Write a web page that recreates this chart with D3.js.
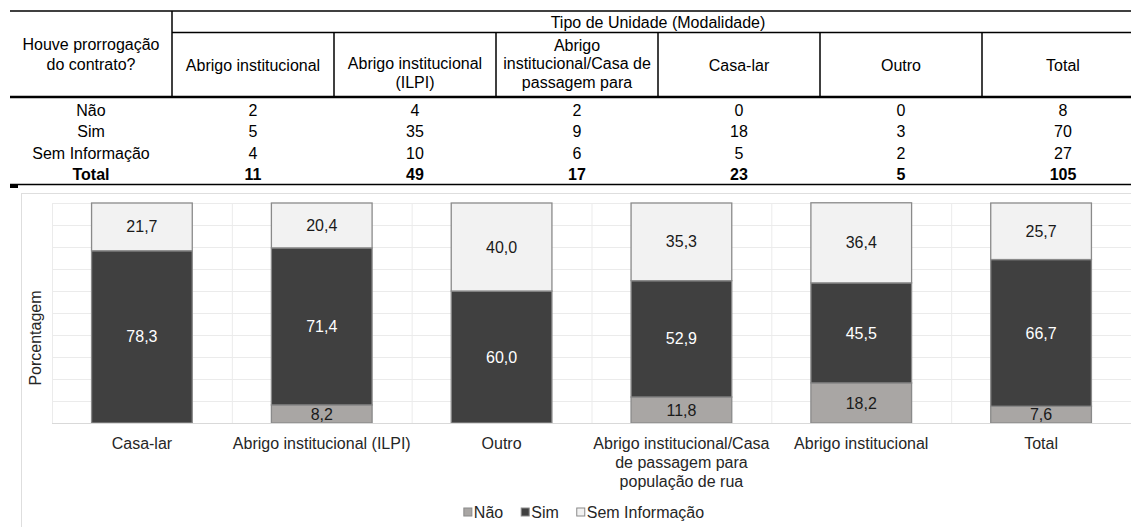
<!DOCTYPE html>
<html>
<head>
<meta charset="utf-8">
<script src="https://cdn.jsdelivr.net/npm/d3@7"></script>
<style>
  html, body { margin: 0; padding: 0; background: #ffffff; }
  svg { display: block; font-family: "Liberation Sans", Arial, sans-serif; }
</style>
</head>
<body>
<svg id="fig" width="1131" height="527"></svg>
<script>
// ---- Table data ----
const tableTitle = "Tipo de Unidade (Modalidade)";
const tableCorner = ["Houve prorrogação", "do contrato?"];
const tableHeaders = [
  ["Abrigo institucional"],
  ["Abrigo institucional", "(ILPI)"],
  ["Abrigo", "institucional/Casa de", "passagem para"],
  ["Casa-lar"],
  ["Outro"],
  ["Total"]
];
const tableRowLabels = ["Não", "Sim", "Sem Informação", "Total"];
const tableNao   = [2, 4, 2, 0, 0, 8];
const tableSim   = [5, 35, 9, 18, 3, 70];
const tableSem   = [4, 10, 6, 5, 2, 27];
const tableTotal = [11, 49, 17, 23, 5, 105];

// ---- Chart data (percentages) ----
const categories = [
  "Casa-lar",
  "Abrigo institucional (ILPI)",
  "Outro",
  "Abrigo institucional/Casa de passagem para população de rua",
  "Abrigo institucional",
  "Total"
];
const pctNao = [0, 8.2, 0, 11.8, 18.2, 7.6];
const pctSim = [78.3, 71.4, 60.0, 52.9, 45.5, 66.7];
const pctSem = [21.7, 20.4, 40.0, 35.3, 36.4, 25.7];
const seriesNames = ["Não", "Sim", "Sem Informação"];
const yTicks = [0, 10, 20, 30, 40, 50, 60, 70, 80, 90, 100];

const svg = d3.select("#fig");
svg.append("rect").attr("width", 1131).attr("height", 527).attr("fill", "#fff");

const FS = 16;
const fmt = v => d3.format(".1f")(v).replace(".", ",");

// =================== TABLE ===================
const tbl = svg.append("g");
const colX = d3.scaleLinear().domain([0, 7]).range([10, 1144]); // 7 columns incl. row labels
const colCenter = i => (colX(i) + colX(i + 1)) / 2;
const rowY = [110, 131, 153, 174];

function hline(x1, x2, y, w) {
  tbl.append("line").attr("x1", x1).attr("x2", x2).attr("y1", y).attr("y2", y)
    .attr("stroke", "#000").attr("stroke-width", w);
}
function vline(x, y1, y2, w) {
  tbl.append("line").attr("x1", x).attr("x2", x).attr("y1", y1).attr("y2", y2)
    .attr("stroke", "#000").attr("stroke-width", w);
}
hline(10, 1131, 11, 1.5);
hline(colX(1), 1131, 32.5, 1.5);
hline(10, 1131, 97, 2.5);
hline(10, 1131, 184.5, 1.5);
tbl.append("rect").attr("x", 10).attr("y", 184).attr("width", 8).attr("height", 4).attr("fill", "#000");
vline(colX(1), 11, 97, 1.5);
for (let i = 2; i <= 6; i++) vline(colX(i), 32.5, 97, 1.5);

function ctext(g, x, yc, s, opts = {}) {
  return g.append("text").attr("x", x).attr("y", yc + FS * 0.35)
    .attr("text-anchor", "middle").attr("font-size", FS)
    .attr("font-weight", opts.bold ? "bold" : null)
    .attr("fill", opts.fill || "#000").text(s);
}

ctext(tbl, (colX(1) + colX(7)) / 2, 22, tableTitle);
tableCorner.forEach((s, i) => ctext(tbl, colCenter(0), 44.5 + i * 20, s));
tableHeaders.forEach((lines, c) => {
  const n = lines.length;
  lines.forEach((s, k) => {
    const yc = n === 1 ? 65 : 82 - (n - 1 - k) * 18.5;
    ctext(tbl, colCenter(c + 1), yc, s);
  });
});
const tableRows = [tableNao, tableSim, tableSem, tableTotal];
tableRowLabels.forEach((lab, r) => {
  const bold = r === 3;
  ctext(tbl, colCenter(0), rowY[r], lab, { bold });
  tableRows[r].forEach((v, c) => ctext(tbl, colCenter(c + 1), rowY[r], v, { bold }));
});

// =================== CHART ===================
const ch = svg.append("g");
ch.append("rect").attr("x", 21.5).attr("y", 193.5).attr("width", 1140).attr("height", 400)
  .attr("fill", "none").attr("stroke", "#dedede").attr("stroke-width", 1);

const x = d3.scaleBand().domain(categories).range([52, 1131]).paddingInner(0.44).paddingOuter(0.22);
const y = d3.scaleLinear().domain([0, 100]).range([423, 203]);
const step = x.step();

// gridlines
ch.append("g").selectAll("line").data(yTicks.slice(1)).join("line")
  .attr("x1", 52).attr("x2", 1131).attr("y1", d => y(d) + 0.5).attr("y2", d => y(d) + 0.5)
  .attr("stroke", "#ebebeb").attr("stroke-width", 1);
ch.append("g").selectAll("line").data(categories).join("line")
  .attr("x1", d => x(d) - step * x.paddingInner() / 2 + 0.5)
  .attr("x2", d => x(d) - step * x.paddingInner() / 2 + 0.5)
  .attr("y1", y(100)).attr("y2", y(0))
  .attr("stroke", "#ebebeb").attr("stroke-width", 1);

// stacked series
const rows = categories.map((c, i) => ({ cat: c, "Não": pctNao[i], "Sim": pctSim[i], "Sem Informação": pctSem[i] }));
const stack = d3.stack().keys(seriesNames)(rows);
const fills = { "Não": "#a9a6a4", "Sim": "#404040", "Sem Informação": "#f2f2f2" };
const labelFill = { "Não": "#1a1a1a", "Sim": "#ffffff", "Sem Informação": "#1a1a1a" };

const layers = ch.append("g").selectAll("g").data(stack).join("g");
layers.selectAll("rect").data(d => d.map(p => ({ key: d.key, p })).filter(o => o.p[1] - o.p[0] > 0))
  .join("rect")
  .attr("x", o => x(o.p.data.cat))
  .attr("width", x.bandwidth())
  .attr("y", o => y(o.p[1]))
  .attr("height", o => y(o.p[0]) - y(o.p[1]))
  .attr("fill", o => fills[o.key])
  .attr("stroke", "#8a8a8a").attr("stroke-width", 1.3);

// axis baseline
ch.append("line").attr("x1", 52).attr("x2", 1131).attr("y1", y(0) + 0.5).attr("y2", y(0) + 0.5)
  .attr("stroke", "#d9d9d9").attr("stroke-width", 1);

// value labels
layers.selectAll("text").data(d => d.map(p => ({ key: d.key, p })).filter(o => o.p[1] - o.p[0] > 0))
  .join("text")
  .attr("x", o => x(o.p.data.cat) + x.bandwidth() / 2)
  .attr("y", o => y((o.p[0] + o.p[1]) / 2) + FS * 0.35)
  .attr("text-anchor", "middle").attr("font-size", FS)
  .attr("fill", o => labelFill[o.key])
  .text(o => fmt(o.p[1] - o.p[0]));

// category labels (wrapped to band step)
function wrap(textSel, width) {
  textSel.each(function () {
    const t = d3.select(this);
    const words = t.text().split(/\s+/);
    const xPos = t.attr("x");
    t.text(null);
    let line = [];
    let tspan = t.append("tspan").attr("x", xPos).attr("dy", 0);
    words.forEach(w => {
      line.push(w);
      tspan.text(line.join(" "));
      if (tspan.node().getComputedTextLength() > width && line.length > 1) {
        line.pop();
        tspan.text(line.join(" "));
        line = [w];
        tspan = t.append("tspan").attr("x", xPos).attr("dy", 19).text(w);
      }
    });
  });
}
ch.append("g").selectAll("text").data(categories).join("text")
  .attr("x", d => x(d) + x.bandwidth() / 2)
  .attr("y", 443 + FS * 0.35)
  .attr("text-anchor", "middle").attr("font-size", FS).attr("fill", "#262626")
  .text(d => d)
  .call(wrap, 182);

// y-axis title
ch.append("text").attr("transform", "translate(" + (35 + FS * 0.35) + ",338) rotate(-90)")
  .attr("text-anchor", "middle").attr("font-size", FS).attr("fill", "#262626").text("Porcentagem");

// legend
const lg = ch.append("g");
let lx = 0;
seriesNames.forEach(name => {
  const g = lg.append("g");
  g.append("rect").attr("x", lx).attr("y", -4).attr("width", 8).attr("height", 8)
    .attr("fill", fills[name]).attr("stroke", "#8a8a8a").attr("stroke-width", 1);
  const t = g.append("text").attr("x", lx + 10).attr("y", FS * 0.35)
    .attr("font-size", FS).attr("fill", "#262626").text(name);
  lx += 10 + t.node().getComputedTextLength() + 18;
});
const lw = lx - 18;
lg.attr("transform", "translate(" + (584 - lw / 2) + ",512)");
</script>
</body>
</html>
